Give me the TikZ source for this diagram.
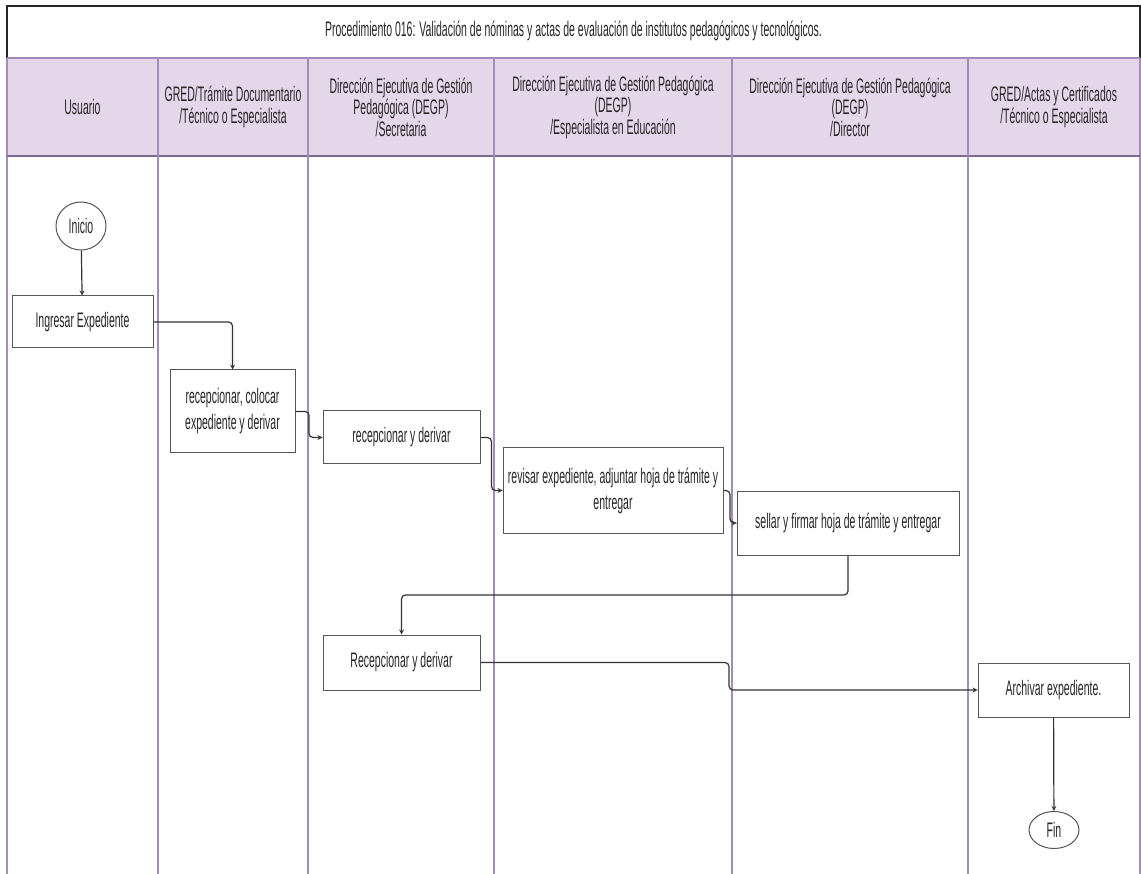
\documentclass[tikz,border=0pt]{standalone}
\usepackage{fontspec}
\setmainfont{Liberation Sans}[FakeStretch=0.5]
\usepackage{xcolor}
\usepackage{tikz}
\usetikzlibrary{shapes,arrows,positioning,calc}

\definecolor{lanefill}{HTML}{E4D7E9}
\definecolor{laneline}{HTML}{A48CBA}
\definecolor{headline}{HTML}{7E6A8E}
\definecolor{boxline}{HTML}{555555}

\begin{document}
\begin{tikzpicture}[x=1pt, y=-1pt,
  every node/.style={font=\fontsize{21}{21.5}\selectfont, text=black!85},
  lanehead/.style={align=center},
  proc/.style={draw=boxline, line width=1pt, fill=white, align=center, font=\fontsize{21}{26}\selectfont},
  term/.style={draw=boxline, line width=1pt, fill=white, ellipse, inner sep=0pt},
  flow/.style={draw=black!80, line width=1.2pt, rounded corners=4pt, ->, >=stealth}]
  \useasboundingbox (0,0) rectangle (1141,874);

  % title row and lane headers
  \fill[lanefill] (7,58) rectangle (1140,156);
  \draw[black!85, line width=1.2pt] (7,58) -- (7,6) -- (1140,6) -- (1140,58);
  \draw[laneline, line width=1.5pt] (7,58) -- (7,874);
  \draw[laneline, line width=1.5pt] (1140,58) -- (1140,874);
  \draw[laneline, line width=1.5pt] (7,58) -- (1140,58);
  \draw[headline, line width=1.5pt] (7,156) -- (1140,156);
  \foreach \x in {158,308,494,732,968}
    \draw[laneline, line width=1.5pt] (\x,58) -- (\x,874);

  \node (title) at (573.5,31) {Procedimiento 016: Validación de nóminas y actas de evaluación de institutos pedagógicos y tecnológicos.};
  \node[lanehead] (usuario) at (82.5,107) {Usuario};
  \node[lanehead] (tramite) at (233,107) {GRED/Trámite Documentario\\/Técnico o Especialista};
  \node[lanehead] (secretaria) at (401,107) {Dirección Ejecutiva de Gestión\\Pedagógica (DEGP)\\/Secretaria};
  \node[lanehead] (especialista) at (613,107) {Dirección Ejecutiva de Gestión Pedagógica\\(DEGP)\\/Especialista en Educación};
  \node[lanehead] (director) at (850,107) {Dirección Ejecutiva de Gestión Pedagógica\\(DEGP)\\/Director};
  \node[lanehead] (actas) at (1054,107) {GRED/Actas y Certificados\\/Técnico o Especialista};

  % process steps
  \node[term, minimum width=50, minimum height=48] (inicio) at (81,226) {Inicio};
  \node[proc, minimum width=141, minimum height=52] (ingresar) at (82.5,322) {Ingresar Expediente};
  \node[proc, minimum width=125, minimum height=83] (recepcion) at (232.5,411.5) {recepcionar, colocar\\expediente y derivar};
  \node[proc, minimum width=157, minimum height=53] (derivar) at (401.5,437.5) {recepcionar y derivar};
  \node[proc, minimum width=220, minimum height=85] (revisar) at (613,490.5) {revisar expediente, adjuntar hoja de trámite y\\entregar};
  \node[proc, minimum width=222, minimum height=64] (sellar) at (848,523) {sellar y firmar hoja de trámite y entregar};
  \node[proc, minimum width=157, minimum height=55] (rederivar) at (401.5,662.5) {Recepcionar y derivar};
  \node[proc, minimum width=151, minimum height=54] (archivar) at (1053.5,690) {Archivar expediente.};
  \node[term, minimum width=50, minimum height=37] (fin) at (1054,830) {Fin};

  % connectors
  \draw[flow] (inicio) -- (ingresar);
  \draw[flow] (ingresar.east) -| (recepcion.north);
  \draw[flow] (recepcion.east) -| ($(recepcion.east)!0.5!(derivar.west)$) |- (derivar.west);
  \draw[flow] (derivar.east) -| ($(derivar.east)!0.5!(revisar.west)$) |- (revisar.west);
  \draw[flow] (revisar.east) -| ($(revisar.east)!0.5!(sellar.west)$) |- (sellar.west);
  \draw[flow] (sellar.south) |- ($(sellar.south)!0.5!(rederivar.north)$) -| (rederivar.north);
  \draw[flow] (rederivar.east) -| ($(rederivar.east)!0.5!(archivar.west)$) |- (archivar.west);
  \draw[flow] (archivar) -- (fin);
\end{tikzpicture}
\end{document}
